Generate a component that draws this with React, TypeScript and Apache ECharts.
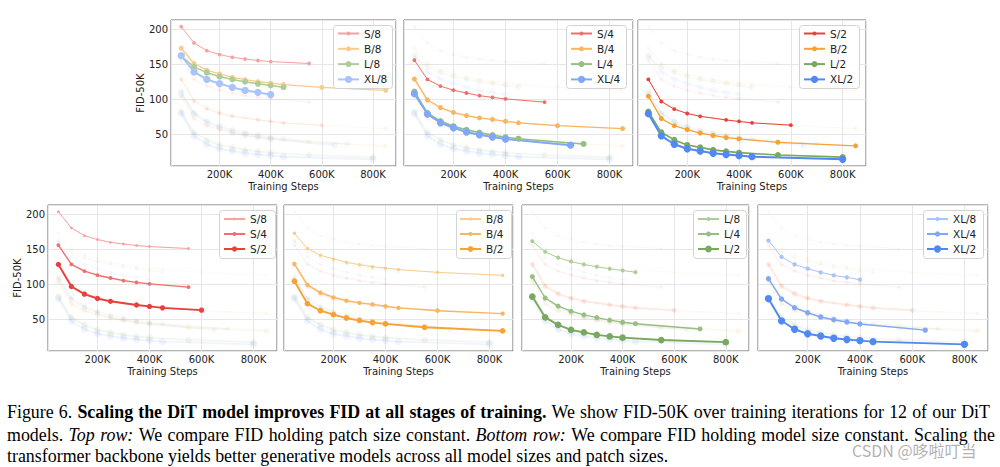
import React, { useEffect, useRef } from "react";
import * as echarts from "echarts";

// ---------- data (training steps in K, FID-50K) ----------
const steps_S8 = [50, 100, 150, 200, 250, 300, 350, 400, 550];
const fid_S8 = [203.5, 180.3, 169.3, 163.8, 159.8, 157.4, 155.3, 153.8, 151];
const steps_B8 = [50, 100, 150, 200, 250, 300, 350, 400, 450, 600, 850];
const fid_B8 = [172.8, 151, 141.5, 136.2, 131.3, 128, 125, 123, 121, 117, 112.8];
const steps_L8 = [50, 100, 150, 200, 250, 300, 350, 400, 450];
const fid_L8 = [161.5, 146.2, 138, 132.4, 128.3, 125, 122.1, 119.7, 117.3];
const steps_XL8 = [50, 100, 150, 200, 250, 300, 350, 400];
const fid_XL8 = [162.3, 139, 128.3, 122.4, 117, 112.7, 109.9, 106.6];

const steps_S4 = [50, 100, 150, 200, 250, 300, 350, 400, 550];
const fid_S4 = [155.7, 128.4, 118.8, 113, 109, 105.2, 102.7, 100.6, 96];
const steps_B4 = [50, 100, 150, 200, 250, 300, 350, 400, 450, 600, 850];
const fid_B4 = [129, 99.3, 88.3, 81.5, 76.8, 73.5, 71.4, 68.7, 66.5, 62.4, 58.3];
const steps_L4 = [50, 100, 150, 200, 250, 300, 350, 400, 450, 700];
const fid_L4 = [111, 80.5, 69, 61.7, 56.5, 52.6, 49, 46, 43.9, 36.4];
const steps_XL4 = [50, 100, 150, 200, 250, 300, 350, 400, 650];
const fid_XL4 = [108, 79, 66.6, 59.5, 53.4, 49.5, 46.3, 43.5, 34.7];

const steps_S2 = [50, 100, 150, 200, 250, 350, 400, 450, 600];
const fid_S2 = [128.3, 96.9, 86, 79.8, 75.8, 70.6, 68.5, 66.5, 63.2];
const steps_B2 = [50, 100, 150, 200, 250, 300, 350, 400, 550, 850];
const fid_B2 = [104.5, 72.5, 62.4, 56.8, 51.9, 48.5, 45.5, 43.6, 38.8, 33.7];
const steps_L2 = [50, 100, 150, 200, 250, 300, 350, 400, 550, 800];
const fid_L2 = [82.5, 53, 42.2, 35, 31.5, 28, 25.8, 24, 20.6, 17.6];
const steps_XL2 = [50, 100, 150, 200, 250, 300, 350, 400, 450, 800];
const fid_XL2 = [79.5, 48, 36, 29.5, 26.3, 23.2, 21.3, 19.8, 18.3, 14.5];

const xTickLabels = ["200K", "400K", "600K", "800K"];

// model index: 0 S, 1 B, 2 L, 3 XL ; patch index: 0 -> /8, 1 -> /4, 2 -> /2
const RUNS = [
  { name: "S/8", m: 0, p: 0, steps: steps_S8, fid: fid_S8 },
  { name: "B/8", m: 1, p: 0, steps: steps_B8, fid: fid_B8 },
  { name: "L/8", m: 2, p: 0, steps: steps_L8, fid: fid_L8 },
  { name: "XL/8", m: 3, p: 0, steps: steps_XL8, fid: fid_XL8 },
  { name: "S/4", m: 0, p: 1, steps: steps_S4, fid: fid_S4 },
  { name: "B/4", m: 1, p: 1, steps: steps_B4, fid: fid_B4 },
  { name: "L/4", m: 2, p: 1, steps: steps_L4, fid: fid_L4 },
  { name: "XL/4", m: 3, p: 1, steps: steps_XL4, fid: fid_XL4 },
  { name: "S/2", m: 0, p: 2, steps: steps_S2, fid: fid_S2 },
  { name: "B/2", m: 1, p: 2, steps: steps_B2, fid: fid_B2 },
  { name: "L/2", m: 2, p: 2, steps: steps_L2, fid: fid_L2 },
  { name: "XL/2", m: 3, p: 2, steps: steps_XL2, fid: fid_XL2 },
];

const PANEL_RUNS = [
  ["S/8", "B/8", "L/8", "XL/8"],
  ["S/4", "B/4", "L/4", "XL/4"],
  ["S/2", "B/2", "L/2", "XL/2"],
  ["S/8", "S/4", "S/2"],
  ["B/8", "B/4", "B/2"],
  ["L/8", "L/4", "L/2"],
  ["XL/8", "XL/4", "XL/2"],
];

// ---------- styles ----------
const COLORS = [
  ["#f5a3a1", "#ef6f6b", "#e8403c"],
  ["#f9cc8e", "#f7b75e", "#f5a332"],
  ["#accd9a", "#97bf81", "#78a95e"],
  ["#a9c4f9", "#80a8f6", "#5189f3"],
];
const TOP_SIZE = [3.8, 5, 6, 7.3];
const TOP_WIDTH = [1, 1.3, 1.6, 2];
const BOT_SIZE = [
  [2.8, 3.8, 5.3],
  [3.3, 4.3, 5.7],
  [4, 5, 6.7],
  [4.3, 5.3, 7.3],
];
const BOT_WIDTH = [1, 1.4, 1.9];

const GRIDS = [
  { left: 171, top: 20, width: 225, height: 146 },
  { left: 404, top: 20, width: 229, height: 146 },
  { left: 638, top: 20, width: 228, height: 146 },
  { left: 48, top: 205, width: 229, height: 146 },
  { left: 284, top: 205, width: 229, height: 146 },
  { left: 522, top: 205, width: 227, height: 146 },
  { left: 758, top: 205, width: 230, height: 146 },
];
const LEGEND_BOX = [
  { x: 333, y: 25, w: 59, h: 63, sx: 337 },
  { x: 566, y: 25, w: 60, h: 63, sx: 570 },
  { x: 799, y: 25, w: 60, h: 63, sx: 803 },
  { x: 219, y: 210, w: 56, h: 48, sx: 223 },
  { x: 456, y: 210, w: 55, h: 48, sx: 459 },
  { x: 693, y: 210, w: 53, h: 48, sx: 697 },
  { x: 923, y: 210, w: 60, h: 48, sx: 926 },
];

const CAPTION = [
  [
    { t: "Figure 6.", w: "normal", s: "normal" },
    { t: "Scaling the DiT model improves FID at all stages of training.", w: "bold", s: "normal" },
    { t: "We show FID-50K over training iterations for 12 of our DiT", w: "normal", s: "normal" },
  ],
  [
    { t: "models.", w: "normal", s: "normal" },
    { t: "Top row:", w: "normal", s: "italic" },
    { t: "We compare FID holding patch size constant.", w: "normal", s: "normal" },
    { t: "Bottom row:", w: "normal", s: "italic" },
    { t: "We compare FID holding model size constant. Scaling the", w: "normal", s: "normal" },
  ],
  [
    {
      t: "transformer backbone yields better generative models across all model sizes and patch sizes.",
      w: "normal",
      s: "normal",
    },
  ],
];

const SANS = "DejaVu Sans";
const SERIF = "Liberation Serif";
const CAP_SIZE = 17.9;

function styleFor(panel: number, run: any) {
  const top = panel < 3;
  return {
    size: top ? TOP_SIZE[run.m] : BOT_SIZE[run.m][run.p],
    width: top ? TOP_WIDTH[run.m] : BOT_WIDTH[run.p],
    color: COLORS[run.m][run.p],
  };
}

function buildCaption(): any[] {
  const canvas = document.createElement("canvas");
  const ctx = canvas.getContext("2d")!;
  const measure = (txt: string, w: string, s: string) => {
    ctx.font = `${s} ${w} ${CAP_SIZE}px "${SERIF}"`;
    return ctx.measureText(txt).width;
  };
  const out: any[] = [];
  const lineY = [412, 434.5, 456];
  const rights = [990, 995, 0];
  CAPTION.forEach((segs, li) => {
    const words: any[] = [];
    segs.forEach((seg) =>
      seg.t.split(" ").forEach((wd) => words.push({ t: wd, w: seg.w, s: seg.s, width: measure(wd, seg.w, seg.s) }))
    );
    const total = words.reduce((a, b) => a + b.width, 0);
    const spaceW = measure(" ", "normal", "normal");
    const gap = rights[li] ? (rights[li] - 7 - total) / (words.length - 1) : spaceW;
    let x = 7;
    words.forEach((wd) => {
      out.push({
        type: "text",
        x,
        y: lineY[li],
        z: 5,
        silent: true,
        style: {
          text: wd.t,
          fontSize: CAP_SIZE,
          fontFamily: SERIF,
          fontWeight: wd.w,
          fontStyle: wd.s,
          fill: "#000",
          verticalAlign: "middle",
          align: "left",
        },
      });
      x += wd.width + gap;
    });
  });
  return out;
}

export default function App() {
  const ref = useRef<HTMLDivElement>(null);
  useEffect(() => {
    if (!ref.current) return;
    const chart = echarts.init(ref.current, undefined, { renderer: "svg" });

    const grid: any[] = GRIDS.map((g) => ({
      ...g,
      show: true,
      backgroundColor: "#fff",
      borderColor: "#6b6b6b",
      borderWidth: 1,
      containLabel: false,
      outerBoundsMode: "none",
    }));

    const xAxis: any[] = GRIDS.map((_, i) => ({
      gridIndex: i,
      type: "value",
      min: 10,
      max: 890,
      axisLine: { show: false },
      axisTick: { show: false },
      splitLine: { show: true, lineStyle: { color: "#e6e6e6", width: 1 } },
      axisLabel: {
        show: true,
        margin: 3,
        fontSize: 10,
        fontFamily: SANS,
        color: "#222",
        showMinLabel: false,
        showMaxLabel: false,
        formatter: (v: number) => (v % 200 === 0 && v > 0 ? xTickLabels[v / 200 - 1] || "" : ""),
      },
      name: "Training Steps",
      nameLocation: "middle",
      nameGap: 15,
      nameTextStyle: { fontSize: 10, fontFamily: SANS, color: "#222" },
    }));

    const yAxis: any[] = GRIDS.map((_, i) => {
      const first = i === 0 || i === 3;
      return {
        gridIndex: i,
        type: "value",
        min: 5,
        max: 213,
        axisLine: { show: false },
        axisTick: { show: false },
        splitLine: { show: true, lineStyle: { color: "#e6e6e6", width: 1 } },
        axisLabel: {
          show: first,
          margin: 3,
          fontSize: 10,
          fontFamily: SANS,
          color: "#222",
          showMinLabel: false,
          showMaxLabel: false,
          formatter: (v: number) => (v % 50 === 0 ? String(v) : ""),
        },
        name: first ? "FID-50K" : "",
        nameLocation: "middle",
        nameGap: 23,
        nameTextStyle: { fontSize: 10, fontFamily: SANS, color: "#222" },
      };
    });

    const series: any[] = [];
    const legends: any[] = [];
    const graphics: any[] = [];

    PANEL_RUNS.forEach((hl, pi) => {
      // faded background runs
      RUNS.forEach((run, ri) => {
        const st = styleFor(pi, run);
        series.push({
          type: "line",
          name: `bg-${pi}-${ri}`,
          xAxisIndex: pi,
          yAxisIndex: pi,
          data: run.steps.map((s, k) => [s, run.fid[k]]),
          symbol: "circle",
          symbolSize: st.size,
          showSymbol: true,
          silent: true,
          z: 1,
          lineStyle: { color: st.color, width: st.width, opacity: 0.09 },
          itemStyle: { color: st.color, opacity: 0.09 },
        });
      });
      // highlighted runs
      const box = LEGEND_BOX[pi];
      graphics.push({
        type: "rect",
        z: 3,
        silent: true,
        shape: { x: box.x + 0.5, y: box.y + 0.5, width: box.w, height: box.h, r: 3 },
        style: { fill: "rgba(255,255,255,0.9)", stroke: "#d3d3d3", lineWidth: 1 },
      });
      hl.forEach((nm, k) => {
        const run = RUNS.find((r) => r.name === nm)!;
        const st = styleFor(pi, run);
        const sname = `${nm}#${pi}`;
        series.push({
          type: "line",
          name: sname,
          xAxisIndex: pi,
          yAxisIndex: pi,
          data: run.steps.map((s, j) => [s, run.fid[j]]),
          symbol: "circle",
          symbolSize: st.size,
          showSymbol: true,
          silent: true,
          z: 2,
          lineStyle: { color: st.color, width: st.width },
          itemStyle: { color: st.color },
        });
        const center = pi < 3 ? 33.5 + 15.3 * k : 219 + 15 * k;
        legends.push({
          show: true,
          data: [sname],
          left: box.sx,
          top: center - 5.5,
          orient: "horizontal",
          padding: 0,
          itemGap: 0,
          itemWidth: 21,
          itemHeight: Math.min(st.size / 0.8, 10),
          selectedMode: false,
          formatter: (n: string) => n.split("#")[0],
          textStyle: { fontSize: 10.5, fontFamily: SANS, color: "#222" },
        });
      });
    });

    graphics.push(...buildCaption());
    graphics.push({
      type: "text",
      x: 852,
      y: 450,
      z: 6,
      silent: true,
      style: {
        text: "CSDN @哆啦叮当",
        fontSize: 16,
        fontFamily: "Noto Sans CJK SC",
        fill: "rgba(150,150,150,0.75)",
        verticalAlign: "middle",
      },
    });

    chart.setOption({
      animation: false,
      backgroundColor: "#fff",
      textStyle: { fontFamily: SANS },
      grid,
      xAxis,
      yAxis,
      legend: legends,
      series,
      graphic: { elements: graphics },
    });
    return () => chart.dispose();
  }, []);

  return (
    <div
      ref={ref}
      style={{ position: "absolute", left: 0, top: 0, width: 1000, height: 467, background: "#fff" }}
    />
  );
}
